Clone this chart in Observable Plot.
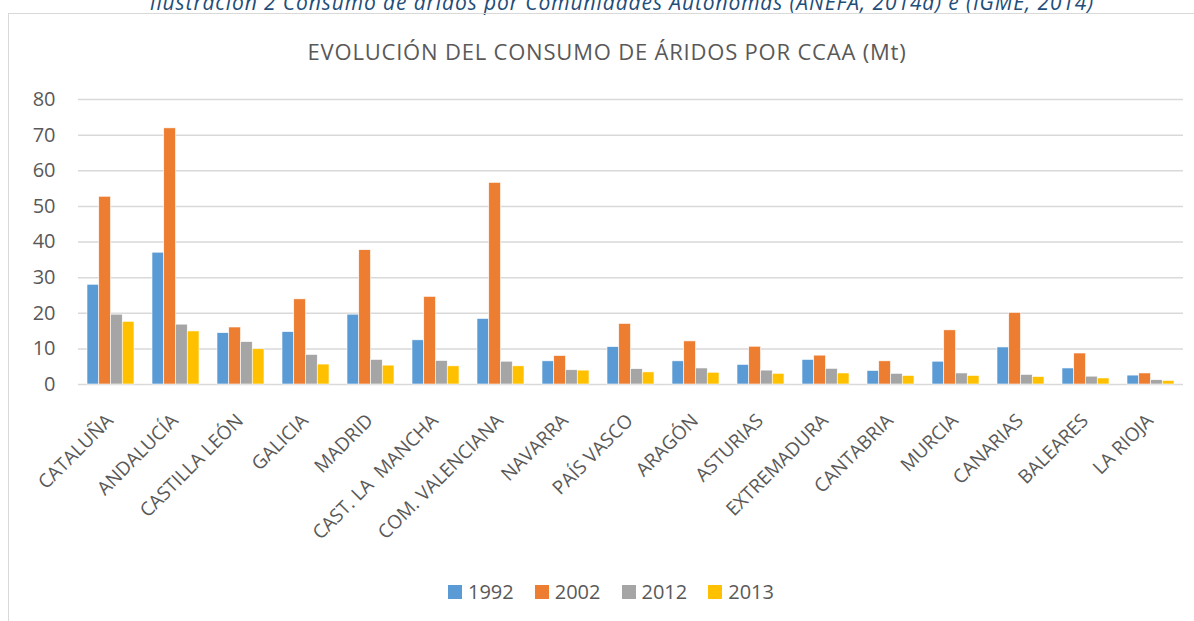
<!DOCTYPE html>
<html><head><meta charset="utf-8">
<script src="https://cdn.jsdelivr.net/npm/d3@7"></script>
<script src="https://cdn.jsdelivr.net/npm/@observablehq/plot@0.6"></script>
<style>
body{margin:0;background:#fff;font-family:"Open Sans",sans-serif;}
#wrap{position:relative;width:1194px;height:621px;overflow:hidden;background:#fff}
#caption{position:absolute;left:25px;width:1194px;top:-8px;line-height:20px;text-align:center;font-style:italic;font-size:21px;letter-spacing:0.9px;color:#1F4E79;white-space:nowrap}
#frame{position:absolute;left:8px;top:13px;width:1200px;height:640px;border:1.5px solid #d9d9d9;box-sizing:border-box}
#title{position:absolute;left:10px;width:1194px;top:41px;line-height:21px;text-align:center;font-size:22px;letter-spacing:0.8px;color:#595959;white-space:nowrap}
#chart{position:absolute;left:0;top:80px}
#legend{position:absolute;left:448px;top:582px;line-height:20px;font-size:20px;color:#595959;display:flex;gap:21px}
#legend .it{display:flex;align-items:center;gap:6px}
#legend .sw{width:14px;height:14px;display:inline-block}
</style></head>
<body>
<div id="wrap">
  <div id="caption">Ilustración 2 Consumo de áridos por Comunidades Autónomas (ANEFA, 2014a) e (IGME, 2014)</div>
  <div id="frame"></div>
  <div id="title">EVOLUCIÓN DEL CONSUMO DE ÁRIDOS POR CCAA (Mt)</div>
  <div id="chart"></div>
  <div id="legend"></div>
</div>
<script>
const categories = ["CATALUÑA","ANDALUCÍA","CASTILLA LEÓN","GALICIA","MADRID","CAST. LA  MANCHA","COM. VALENCIANA","NAVARRA","PAÍS VASCO","ARAGÓN","ASTURIAS","EXTREMADURA","CANTABRIA","MURCIA","CANARIAS","BALEARES","LA RIOJA"];
const years = ["1992","2002","2012","2013"];
const v1992 = [28.0,37.0,14.4,14.7,19.6,12.4,18.4,6.5,10.5,6.5,5.5,6.9,3.8,6.4,10.4,4.5,2.5];
const v2002 = [52.7,71.9,16.0,23.9,37.7,24.6,56.6,8.0,17.0,12.1,10.6,8.1,6.5,15.2,20.1,8.7,3.1];
const v2012 = [19.6,16.8,11.9,8.3,6.9,6.6,6.4,4.0,4.3,4.5,3.9,4.4,3.0,3.1,2.7,2.2,1.2];
const v2013 = [17.6,14.9,9.9,5.6,5.3,5.1,5.1,3.9,3.4,3.3,3.0,3.1,2.4,2.4,2.1,1.7,1.0];
const yTicks = [0,10,20,30,40,50,60,70,80];
const colors = ["#5B9BD5","#ED7D31","#A5A5A5","#FFC000"];

const series = [v1992, v2002, v2012, v2013];
const data = [];
categories.forEach((c, i) => years.forEach((y, j) => data.push({region: c, year: y, value: series[j][i]})));

const chart = Plot.plot({
  width: 1194, height: 480,
  marginLeft: 80, marginRight: 14, marginTop: 19, marginBottom: 176,
  style: {fontFamily: "Open Sans", fontSize: "20px", color: "#595959", background: "transparent", overflow: "visible"},
  fx: {domain: categories, paddingInner: 0.277, paddingOuter: 0.09},
  x: {axis: null, domain: years, padding: 0, round: false},
  y: {domain: [0, 80]},
  color: {domain: years, range: colors},
  marks: [
    Plot.ruleY(yTicks, {stroke: "#d9d9d9", strokeWidth: 1.5, insetLeft: -9, insetRight: -9}),
    Plot.axisY(yTicks, {anchor: "left", tickSize: 0, tickPadding: 6, dx: -26, label: null, fontSize: 20, fill: "#595959"}),
    Plot.axisFx({anchor: "bottom", tickRotate: -45, tickSize: 0, tickPadding: 6, dx: -1, dy: 27, label: null, fontSize: 19, fill: "#595959"}),
    Plot.barY(data, {fx: "region", x: "year", y: "value", fill: "year", stroke: "white", strokeWidth: 0.6})
  ]
});
document.getElementById("chart").appendChild(chart);

const leg = document.getElementById("legend");
years.forEach((y, j) => {
  const it = document.createElement("div"); it.className = "it";
  const sw = document.createElement("span"); sw.className = "sw"; sw.style.background = colors[j];
  const t = document.createElement("span"); t.textContent = y;
  it.appendChild(sw); it.appendChild(t); leg.appendChild(it);
});
</script>
</body></html>
